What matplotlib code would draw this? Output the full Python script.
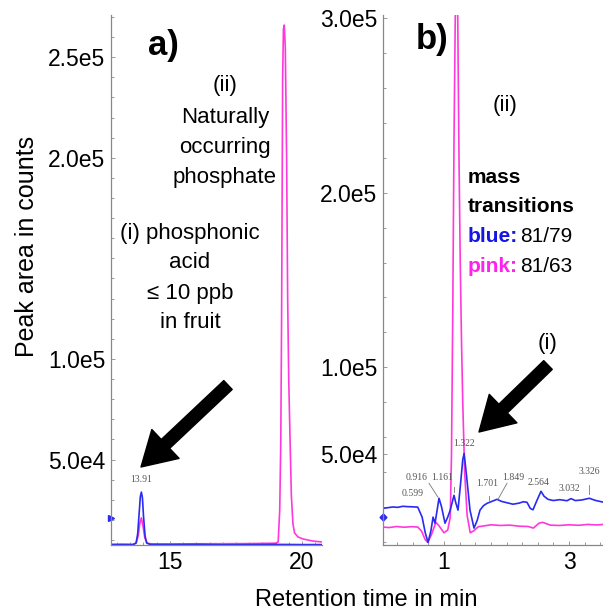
import matplotlib
matplotlib.use("Agg")
import matplotlib.pyplot as plt
from matplotlib.ticker import MultipleLocator
import numpy as np

plt.rcParams['font.family'] = ['Liberation Sans', 'DejaVu Sans']

# ---- data (counts in units of 1e3) ----
# panel a) long run, retention time in min
a_blue_t = [12.77, 13.2, 13.6, 13.72, 13.78, 13.84, 13.88, 13.92, 13.96, 14.00, 14.06, 14.12, 14.25,
            15.0, 16.0, 17.0, 18.0, 19.0, 20.0, 20.76]
a_blue_v = [7.6, 7.7, 7.6, 8.5, 13, 24, 31.5, 33.8, 31, 22, 12, 8.5, 7.8,
            7.7, 7.8, 7.6, 7.7, 7.8, 7.7, 7.7]
a_pink_t = [12.77, 13.6, 13.72, 13.80, 13.86, 13.92, 13.98, 14.05, 14.14, 14.3, 16.0, 18.0,
            19.00, 19.10, 19.16, 19.20, 19.23, 19.25, 19.27, 19.30, 19.33, 19.37, 19.42, 19.46,
            19.50, 19.55, 19.60, 19.66, 19.72, 19.85, 20.04, 20.4, 20.76]
a_pink_v = [7.9, 7.9, 8.4, 12, 18, 21, 17, 11, 8.4, 8.0, 8.1, 8.2,
            8.4, 9, 25, 60, 120, 180, 240, 264, 266, 255, 200, 130,
            90, 60, 32, 18, 13.5, 11.5, 10.5, 9.5, 9.0]

# panel b) short run
b_blue_t = [0.024, 0.10, 0.18, 0.26, 0.34, 0.42, 0.50, 0.58, 0.65, 0.70, 0.745, 0.79, 0.825, 0.856,
            0.89, 0.92, 0.96, 1.016, 1.06, 1.10, 1.128, 1.16, 1.19, 1.224, 1.27, 1.30, 1.322, 1.36,
            1.416, 1.48, 1.53, 1.576, 1.63, 1.688, 1.75, 1.80, 1.848, 1.92, 2.00, 2.104, 2.20, 2.27,
            2.328, 2.38, 2.424, 2.48, 2.552, 2.60, 2.664, 2.75, 2.85, 2.968, 3.032, 3.10, 3.20,
            3.326, 3.42, 3.544]
b_blue_v = [19.0, 19.4, 19.8, 19.6, 20.2, 20.0, 19.9, 19.7, 14, 5, -0.5, 6, 14, 10.5,
            18, 24.8, 20, 10.5, 14, 18, 22, 26.5, 22, 18, 35, 47, 50.5, 38,
            18, 7.7, 12, 18, 20.5, 21.9, 22.8, 23.5, 24.2, 23, 22.3, 21.4, 22, 22.8,
            22.5, 19, 18.2, 23, 28.8, 26, 24.2, 23.5, 24, 23.4, 24.6, 23.5, 23.8,
            24.8, 23.6, 22.6]
b_pink_t = [0.024, 0.12, 0.24, 0.36, 0.48, 0.58, 0.64, 0.70, 0.74, 0.80, 0.87, 0.92, 1.00, 1.06,
            1.10, 1.12, 1.14, 1.16, 1.18, 1.20, 1.22, 1.24, 1.26, 1.28, 1.30, 1.33, 1.37, 1.42,
            1.47, 1.55, 1.65, 1.75, 1.90, 2.05, 2.20, 2.35, 2.43, 2.52, 2.58, 2.70, 2.85, 3.00,
            3.15, 3.30, 3.45, 3.544]
b_pink_v = [8.3, 8.0, 8.6, 8.2, 8.5, 8.3, 6, 1, -0.5, 4, 11, 9, 5, 6.6,
            14, 50, 130, 230, 300, 330, 300, 220, 160, 115, 80, 40, 15, 5,
            6, 8.5, 9, 9.6, 9.2, 9.4, 8.8, 8.6, 7.7, 10.5, 11, 9.4, 9.2, 9.6,
            9.3, 9.8, 9.5, 9.8]

a_peak_labels = ['13.91']
b_peak_labels = ['0.599', '0.916', '1.161', '1.322', '1.701', '1.849', '2.564', '3.032', '3.326']

a_yticks = [5e4, 1e5, 2e5, 2.5e5]
a_yticklabels = ['5.0e4', '1.0e5', '2.0e5', '2.5e5']
b_yticks = [5e4, 1e5, 2e5, 3e5]
b_yticklabels = ['5.0e4', '1.0e5', '2.0e5', '3.0e5']

BLUE = '#2a2af2'
PINK = '#ff38dc'
W, H = 603, 613


def fpos(x, y):
    # pixel position -> figure fraction
    return x / W, 1 - y / H


def style_axis(ax):
    for s in ['top', 'right']:
        ax.spines[s].set_visible(False)
    for s in ['left', 'bottom']:
        ax.spines[s].set_color('#888888')
        ax.spines[s].set_linewidth(0.9)
    ax.tick_params(which='both', direction='in', color='#999999', width=0.7)
    ax.tick_params(which='major', length=3, labelsize=16.5, pad=4)
    ax.tick_params(which='minor', length=2.5)


fig = plt.figure(figsize=(6.03, 6.13), dpi=100)

# ---- panel a ----
ax1 = fig.add_axes([111 / W, 68 / H, 211 / W, 530 / H])
ax1.plot(a_pink_t, np.array(a_pink_v) * 1e3, color=PINK, lw=1.2)
ax1.plot(a_blue_t, np.array(a_blue_v) * 1e3, color=BLUE, lw=1.2)
ax1.set_xlim(12.77, 20.76)
ax1.set_ylim(7.5e3, 271e3)
ax1.set_xticks([15, 20])
ax1.xaxis.set_minor_locator(MultipleLocator(0.5))
ax1.set_yticks(a_yticks)
ax1.set_yticklabels(a_yticklabels)
ax1.yaxis.set_minor_locator(MultipleLocator(1e4))
style_axis(ax1)
ax1.plot([12.77], [20.9e3], marker='>', color=BLUE, ms=5, clip_on=False)
ax1.text(13.91, 38e3, a_peak_labels[0], ha='center', va='bottom',
         fontsize=7, family='Liberation Serif', color='#555555')

# ---- panel b ----
ax2 = fig.add_axes([383 / W, 68 / H, 220 / W, 530 / H])
ax2.plot(b_pink_t, np.array(b_pink_v) * 1e3, color=PINK, lw=1.2)
ax2.plot(b_blue_t, np.array(b_blue_v) * 1e3, color=BLUE, lw=1.2)
ax2.set_xlim(0.024, 3.544)
ax2.set_ylim(-2e3, 302e3)
ax2.set_xticks([1, 3])
ax2.xaxis.set_minor_locator(MultipleLocator(0.25))
ax2.set_yticks(b_yticks)
ax2.set_yticklabels(b_yticklabels)
ax2.yaxis.set_minor_locator(MultipleLocator(2e4))
style_axis(ax2)
ax2.plot([0.024], [14e3], marker='D', color=BLUE, ms=3.5, clip_on=False)

# peak labels of panel b (positions in data coordinates)
lab_x = [0.504, 0.568, 0.968, 1.32, 1.688, 2.104, 2.52, 3.0, 3.32]
lab_y = [27.7, 36.8, 36.8, 56.2, 33.4, 36.8, 33.9, 30.5, 40.2]
for s, x, y in zip(b_peak_labels, lab_x, lab_y):
    ax2.text(x, y * 1e3, s, ha='center', va='center', fontsize=7,
             family='Liberation Serif', color='#555555')
grey = dict(color='#777777', lw=0.6)
ax2.plot([0.76, 0.904], [33.4e3, 25.4e3], **grey)
ax2.plot([2.008, 1.864], [33.4e3, 24.2e3], **grey)
ax2.plot([3.32, 3.32], [32.5e3, 27e3], **grey)
ax2.plot([1.72, 1.72], [26e3, 24e3], **grey)
ax2.plot([1.16, 1.16], [31e3, 28.5e3], **grey)

# ---- axis titles ----
fig.text(*fpos(27, 246), 'Peak area in counts', rotation=90, ha='center', va='center', fontsize=18)
fig.text(*fpos(366, 600), 'Retention time in min', ha='center', va='center', fontsize=17)

# ---- annotations ----
fig.text(*fpos(163, 45), 'a)', fontsize=25, fontweight='bold', ha='center', va='center')
fig.text(*fpos(432, 40), 'b)', fontsize=25, fontweight='bold', ha='center', va='center')

note_a = [('(ii)', 225, 85), ('Naturally', 225, 117), ('occurring', 225, 147), ('phosphate', 225, 177),
          ('(i) phosphonic', 190, 233), ('acid', 190, 263), ('\u2264 10 ppb', 190, 293),
          ('in fruit', 190, 323), ('(ii)', 505, 105), ('(i)', 548, 343)]
for s, x, y in note_a:
    fig.text(*fpos(x, y), s, fontsize=16, ha='center', va='center')

fig.text(*fpos(468, 177), 'mass', fontsize=15, fontweight='bold', ha='left', va='center')
fig.text(*fpos(468, 207), 'transitions', fontsize=15, fontweight='bold', ha='left', va='center')
fig.text(*fpos(468, 237), 'blue:', fontsize=15, fontweight='bold', color='#1515e6', ha='left', va='center')
fig.text(*fpos(520, 237), '81/79', fontsize=15, ha='left', va='center')
fig.text(*fpos(468, 267), 'pink:', fontsize=15, fontweight='bold', color='#ff22ee', ha='left', va='center')
fig.text(*fpos(520, 267), '81/63', fontsize=15, ha='left', va='center')

arrow = dict(arrowstyle='simple,head_length=1.1,head_width=1.3,tail_width=0.4',
             color='black', mutation_scale=22, shrinkA=0, shrinkB=0)
fig.add_artist(plt.Annotation('', xy=fpos(141, 467), xytext=fpos(228, 385),
                              xycoords='figure fraction', textcoords='figure fraction',
                              arrowprops=arrow))
fig.add_artist(plt.Annotation('', xy=fpos(479, 432), xytext=fpos(548, 365),
                              xycoords='figure fraction', textcoords='figure fraction',
                              arrowprops=arrow))

fig.savefig('out.png', dpi=100)
